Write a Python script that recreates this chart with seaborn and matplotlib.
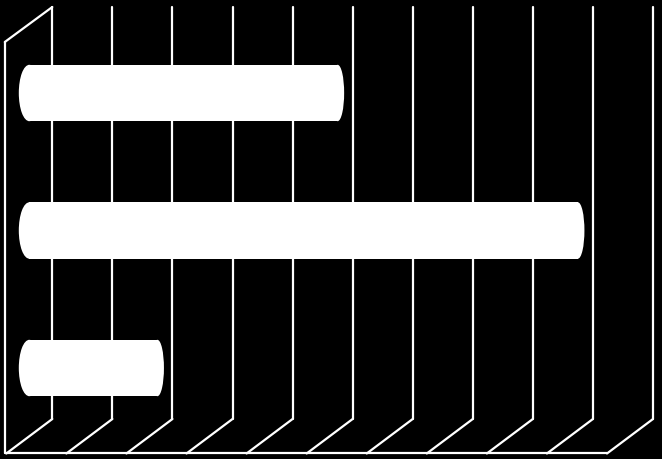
import matplotlib
matplotlib.use("Agg")
import matplotlib.pyplot as plt
from matplotlib.patches import Ellipse, Rectangle
import seaborn as sns
import pandas as pd

# ---- data ----
categories = ["Category 1", "Category 2", "Category 3"]
values = [5, 9, 2]
grid_values = list(range(0, 11))

sns.set_theme(style="white")
plt.rcParams["font.family"] = ["DejaVu Sans"]

W, H = 662, 460
fig = plt.figure(figsize=(W / 100, H / 100), dpi=100, facecolor="black")
ax = fig.add_axes([0, 0, 1, 1])
ax.set_facecolor("black")

df = pd.DataFrame({"category": categories, "value": values})

# pixel geometry of the pseudo-3D frame
x0_pix, x_unit = 29.3, 60.07     # value 0 at bar depth, pixels per unit
y0_pix, y_unit = 94.0, 137.5     # first category centre, pixels per category

def dx(p):  # pixel offset -> data x offset
    return p / x_unit

def ydat(p):  # pixel y -> data y
    return (p - y0_pix) / y_unit

sns.barplot(data=df, x="value", y="category", orient="h", color="white",
            width=0.41, linewidth=0, saturation=1, ax=ax, zorder=5)

ax.set_xlim(-x0_pix / x_unit, (W - x0_pix) / x_unit)
ax.set_ylim(ydat(H), ydat(0))
ax.set_axis_off()

# rounded (cylinder) ends of the bars
for p in list(ax.patches):
    bx, bw = p.get_x(), p.get_width()
    bh = p.get_height()
    yc = p.get_y() + bh / 2
    ax.add_patch(Ellipse((bx, yc), 2 * dx(10.5), bh, color="white", lw=0, zorder=5))
    ext = dx(8)
    ax.add_patch(Rectangle((bx + bw, yc - bh / 2), ext, bh, color="white", lw=0, zorder=5))
    ax.add_patch(Ellipse((bx + bw + ext, yc), 2 * dx(6.5), bh, color="white", lw=0, zorder=5))

# frame lines (back wall gridlines, floor, left edge)
lw = 1.6
depth = dx(23)
y_back_top, y_back_bot = ydat(8), ydat(420)
y_front_bot, y_front_top = ydat(454.5), ydat(43)
for v in grid_values:
    ax.plot([v + depth, v + depth], [y_back_top, y_back_bot], color="white", lw=lw, zorder=2)
    ax.plot([v + depth, v - depth], [y_back_bot, y_front_bot], color="white", lw=lw, zorder=2)
ax.plot([grid_values[0] - depth - dx(1.5), grid_values[-1] - depth],
        [y_front_bot, y_front_bot], color="white", lw=lw, zorder=2)
ax.plot([grid_values[0] - depth - dx(1.5)] * 2, [y_front_top, y_front_bot],
        color="white", lw=lw, zorder=2)
ax.plot([grid_values[0] - depth - dx(1.5), grid_values[0] + depth],
        [y_front_top, y_back_top], color="white", lw=lw, zorder=2)

fig.savefig("out.png", dpi=100, facecolor="black")
